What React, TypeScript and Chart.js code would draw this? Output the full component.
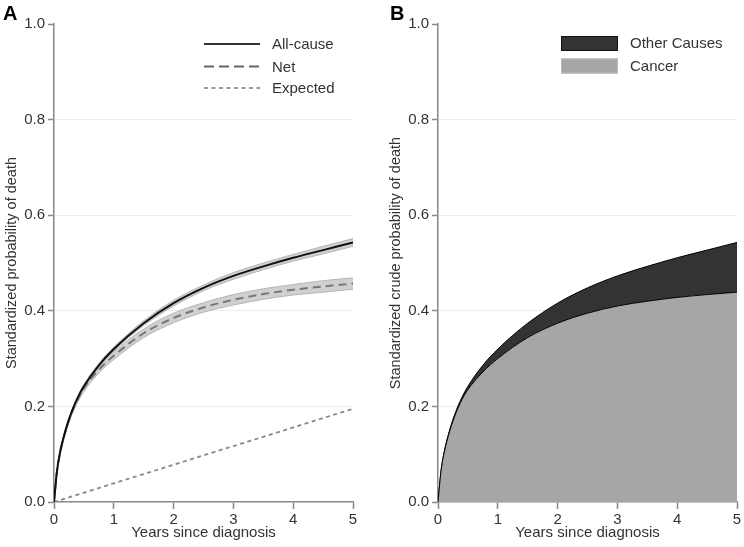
import React, { useEffect, useRef } from "react";
import { Chart, registerables } from "chart.js";

Chart.register(...registerables);
Chart.defaults.font.family = "'Liberation Sans', Arial, sans-serif";
Chart.defaults.color = "#333";

// ---- data ----
const years = [0, 0.05, 0.1, 0.2, 0.3, 0.4, 0.5, 0.75, 1, 1.5, 2, 2.5, 3, 3.5, 4, 4.5, 5];
const allCause = [0, 0.065, 0.103, 0.153, 0.19, 0.219, 0.242, 0.286, 0.32, 0.374, 0.416, 0.448, 0.473, 0.493, 0.511, 0.527, 0.543];
const allCauseLo = [0, 0.064, 0.101, 0.15, 0.187, 0.216, 0.238, 0.282, 0.316, 0.369, 0.41, 0.442, 0.466, 0.486, 0.504, 0.519, 0.535];
const allCauseHi = [0, 0.066, 0.105, 0.156, 0.193, 0.222, 0.246, 0.29, 0.324, 0.379, 0.422, 0.454, 0.48, 0.5, 0.518, 0.535, 0.551];
const net = [0, 0.064, 0.102, 0.151, 0.188, 0.216, 0.238, 0.277, 0.306, 0.353, 0.385, 0.407, 0.423, 0.435, 0.444, 0.451, 0.457];
const netLo = [0, 0.062, 0.099, 0.147, 0.183, 0.21, 0.231, 0.27, 0.298, 0.344, 0.375, 0.397, 0.412, 0.424, 0.433, 0.439, 0.445];
const netHi = [0, 0.066, 0.105, 0.155, 0.193, 0.222, 0.245, 0.284, 0.314, 0.362, 0.395, 0.417, 0.434, 0.446, 0.455, 0.463, 0.469];
const expectedYears = [0, 1, 2, 3, 4, 5];
const expected = [0, 0.039, 0.078, 0.117, 0.156, 0.195];
const cancer = [0, 0.064, 0.101, 0.15, 0.186, 0.214, 0.235, 0.272, 0.3, 0.344, 0.374, 0.395, 0.41, 0.42, 0.428, 0.434, 0.439];
const otherCauses = [0, 0.001, 0.002, 0.003, 0.004, 0.005, 0.007, 0.014, 0.02, 0.03, 0.042, 0.053, 0.063, 0.073, 0.083, 0.093, 0.104];

const legendA = ["All-cause", "Net", "Expected"];
const legendB = ["Other Causes", "Cancer"];
const xTitle = "Years since diagnosis";
const yTitleA = "Standardized probability of death";
const yTitleB = "Standardized crude probability of death";

const pts = (xs: number[], ys: number[]) => xs.map((x, i) => ({ x, y: ys[i] }));

const FONT = "'Liberation Sans', Arial, sans-serif";

function makeScales(yTitle: string, stacked: boolean) {
  return {
    x: {
      type: "linear" as const,
      min: 0,
      max: 5,
      afterFit: (s: any) => { s.height = 45; },
      ticks: { stepSize: 1, font: { size: 15 }, color: "#333", padding: 2,
        callback: (v: any) => String(v) },
      grid: { drawOnChartArea: false, drawTicks: true, tickLength: 7, tickColor: "#888", tickWidth: 1.5 },
      border: { display: true, color: "#888", width: 1.5 },
      title: { display: true, text: xTitle, font: { size: 15 }, color: "#333", padding: { top: 0, bottom: 5 } },
    },
    y: {
      min: 0,
      max: 1,
      stacked,
      afterFit: (s: any) => { s.width = 54; },
      ticks: { stepSize: 0.2, font: { size: 15 }, color: "#333", padding: 3,
        callback: (v: any) => Number(v).toFixed(1) },
      grid: {
        drawTicks: true, tickLength: 6, tickColor: "#888", tickWidth: 1.5,
        color: (c: any) => (c.tick && c.tick.value > 0.01 && c.tick.value < 0.99 ? "#ececec" : "rgba(0,0,0,0)"),
        lineWidth: 1,
      },
      border: { display: true, color: "#888", width: 1.5 },
      title: { display: true, text: yTitle, font: { size: 14.5 }, color: "#333", padding: { top: 3, bottom: 0 } },
    },
  };
}

const legendPluginA = {
  id: "legendA",
  afterDraw(chart: any) {
    const ctx = chart.ctx;
    ctx.save();
    ctx.font = "bold 20px " + FONT;
    ctx.fillStyle = "#000";
    ctx.textBaseline = "top";
    ctx.fillText("A", 3, 4);
    const rows = [
      { y: 44, color: "#333", dash: [], w: 1.8 },
      { y: 66.5, color: "#666", dash: [10, 5], w: 1.8 },
      { y: 88, color: "#777", dash: [4, 3.5], w: 1.6 },
    ];
    rows.forEach((r, i) => {
      ctx.beginPath();
      ctx.setLineDash(r.dash);
      ctx.strokeStyle = r.color;
      ctx.lineWidth = r.w;
      ctx.moveTo(204, r.y);
      ctx.lineTo(260, r.y);
      ctx.stroke();
      ctx.setLineDash([]);
      ctx.font = "15px " + FONT;
      ctx.fillStyle = "#333";
      ctx.textBaseline = "middle";
      ctx.fillText(legendA[i], 272, r.y + 1);
    });
    ctx.restore();
  },
};

const legendPluginB = {
  id: "legendB",
  afterDraw(chart: any) {
    const ctx = chart.ctx;
    ctx.save();
    ctx.font = "bold 20px " + FONT;
    ctx.fillStyle = "#000";
    ctx.textBaseline = "top";
    ctx.fillText("B", 6, 4);
    const rows = [
      { y: 36, fill: "#333", stroke: "#111" },
      { y: 58.5, fill: "#a6a6a6", stroke: "#bbb" },
    ];
    rows.forEach((r, i) => {
      ctx.fillStyle = r.fill;
      ctx.fillRect(177, r.y, 57, 15);
      ctx.strokeStyle = r.stroke;
      ctx.lineWidth = 1;
      ctx.strokeRect(177.5, r.y + 0.5, 56, 14);
      ctx.font = "15px " + FONT;
      ctx.fillStyle = "#333";
      ctx.textBaseline = "middle";
      ctx.fillText(legendB[i], 246, r.y + 8);
    });
    ctx.restore();
  },
};

function PanelA() {
  const ref = useRef<HTMLCanvasElement>(null);
  useEffect(() => {
    const band = "rgba(200,200,200,0.85)";
    const chart = new Chart(ref.current!, {
      type: "line",
      data: {
        datasets: [
          { label: legendA[0], data: pts(years, allCause), borderColor: "#111", borderWidth: 2, pointRadius: 0, fill: false, cubicInterpolationMode: "monotone", order: 0 },
          { label: legendA[1], data: pts(years, net), borderColor: "#777", borderWidth: 2, borderDash: [8, 5], pointRadius: 0, fill: false, cubicInterpolationMode: "monotone", order: 0 },
          { label: legendA[2], data: pts(expectedYears, expected), borderColor: "#888", borderWidth: 1.8, borderDash: [4, 3.5], pointRadius: 0, fill: false, order: 0 },
          { label: "acLo", data: pts(years, allCauseLo), borderColor: "#b5b5b5", borderWidth: 1, pointRadius: 0, fill: false, cubicInterpolationMode: "monotone", order: 1 },
          { label: "acHi", data: pts(years, allCauseHi), borderColor: "#b5b5b5", borderWidth: 1, backgroundColor: band, pointRadius: 0, fill: "-1", cubicInterpolationMode: "monotone", order: 1 },
          { label: "netLo", data: pts(years, netLo), borderColor: "#b5b5b5", borderWidth: 1, pointRadius: 0, fill: false, cubicInterpolationMode: "monotone", order: 1 },
          { label: "netHi", data: pts(years, netHi), borderColor: "#b5b5b5", borderWidth: 1, backgroundColor: band, pointRadius: 0, fill: "-1", cubicInterpolationMode: "monotone", order: 1 },
        ],
      },
      options: {
        responsive: false,
        animation: false,
        devicePixelRatio: 1,
        layout: { padding: { top: 24, right: 19, bottom: 0, left: 0 } },
        plugins: { legend: { display: false }, tooltip: { enabled: false } },
        scales: makeScales(yTitleA, false) as any,
      },
      plugins: [legendPluginA],
    } as any);
    return () => chart.destroy();
  }, []);
  return <canvas ref={ref} width={372} height={547} style={{ position: "absolute", left: 0, top: 0 }} />;
}

function PanelB() {
  const ref = useRef<HTMLCanvasElement>(null);
  useEffect(() => {
    const chart = new Chart(ref.current!, {
      type: "line",
      data: {
        datasets: [
          { label: legendB[1], data: pts(years, cancer), borderColor: "#000", borderWidth: 1, backgroundColor: "#a6a6a6", pointRadius: 0, fill: "origin", cubicInterpolationMode: "monotone" },
          { label: legendB[0], data: pts(years, otherCauses), borderColor: "#000", borderWidth: 1, backgroundColor: "#333333", pointRadius: 0, fill: "-1", cubicInterpolationMode: "monotone" },
        ],
      },
      options: {
        responsive: false,
        animation: false,
        devicePixelRatio: 1,
        layout: { padding: { top: 24, right: 7, bottom: 0, left: 0 } },
        plugins: { legend: { display: false }, tooltip: { enabled: false } },
        scales: makeScales(yTitleB, true) as any,
      },
      plugins: [legendPluginB],
    } as any);
    return () => chart.destroy();
  }, []);
  return <canvas ref={ref} width={360} height={547} style={{ position: "absolute", left: 384, top: 0 }} />;
}

export default function App() {
  return (
    <div style={{ position: "absolute", left: 0, top: 0, width: 744, height: 547, background: "#fff" }}>
      <PanelA />
      <PanelB />
    </div>
  );
}
